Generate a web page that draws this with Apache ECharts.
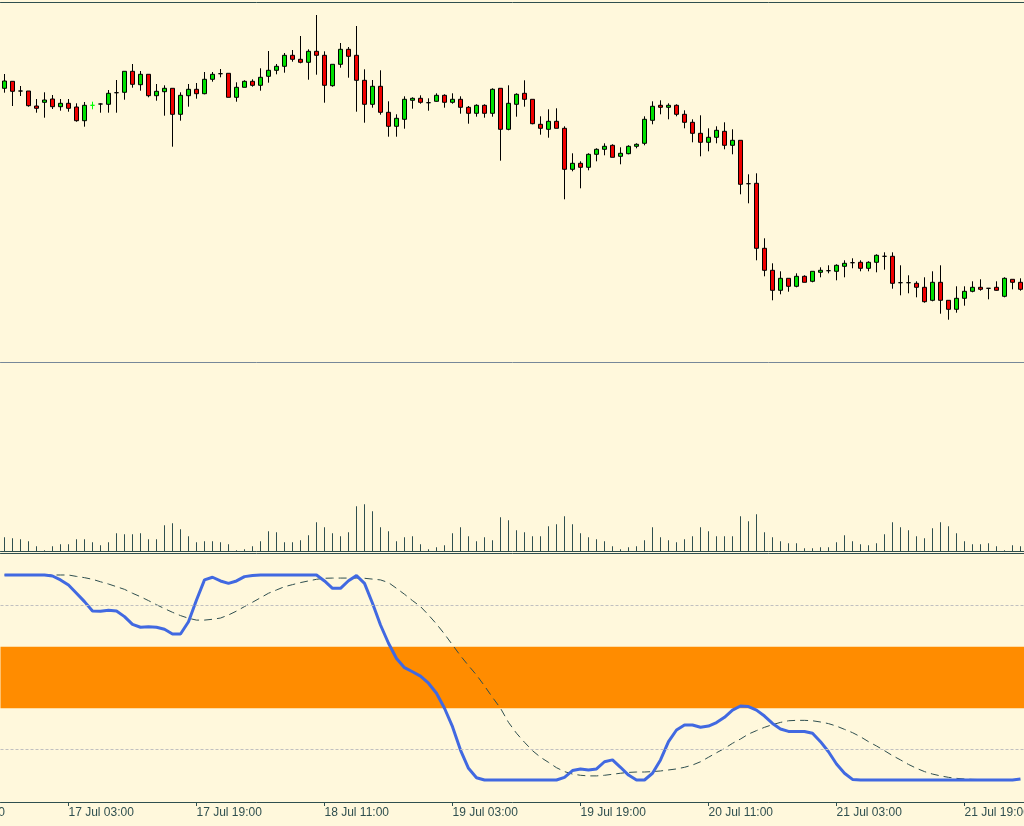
<!DOCTYPE html>
<html>
<head>
<meta charset="utf-8">
<title>Hourly chart with volume and stochastic</title>
<script src="https://cdn.jsdelivr.net/npm/echarts@6/dist/echarts.min.js"></script>
<style>
  html, body { margin: 0; padding: 0; background: #FFF8DC; }
  #chart { width: 1024px; height: 826px; }
</style>
</head>
<body>
<div id="chart"></div>
<script>
// hourly bars, first bar 16 Jul 19:00
const startDay = 16;
const startHour = 19;
const barCount = 128;
const categories = Array.from({ length: barCount }, (_, i) => {
    const h = startHour + i;
    return `${startDay + Math.floor(h / 24)} Jul ${String(h % 24).padStart(2, '0')}:00`;
});
// label that sits just off the left edge
const hiddenLeftLabel = '16 Jul 11:00';

const opens = [
    1.19117, 1.19187, 1.19090, 1.19090, 1.18940, 1.18977, 1.19010, 1.18933, 1.18967, 1.18930,
    1.18793, 1.18947, 1.18960, 1.18957, 1.19073, 1.19077, 1.19287, 1.19153, 1.19257, 1.19043,
    1.19083, 1.19117, 1.18857, 1.19043, 1.19107, 1.19063, 1.19207, 1.19263, 1.19267, 1.19027,
    1.19127, 1.19187, 1.19147, 1.19237, 1.19297, 1.19337, 1.19447, 1.19407, 1.19377, 1.19487,
    1.19447, 1.19143, 1.19357, 1.19507, 1.19447, 1.19197, 1.18957, 1.19137, 1.18877, 1.18737,
    1.18807, 1.18997, 1.19017, 1.18973, 1.18987, 1.19047, 1.18977, 1.19007, 1.18927, 1.18867,
    1.18947, 1.18867, 1.19117, 1.18707, 1.18957, 1.19067, 1.19007, 1.18757, 1.18707, 1.18787,
    1.18717, 1.18307, 1.18367, 1.18327, 1.18457, 1.18507, 1.18547, 1.18437, 1.18463, 1.18537,
    1.18567, 1.18797, 1.18947, 1.18927, 1.18947, 1.18857, 1.18777, 1.18667, 1.18577, 1.18627,
    1.18687, 1.18547, 1.18597, 1.18163, 1.18167, 1.17517, 1.17297, 1.17097, 1.17217, 1.17137,
    1.17237, 1.17187, 1.17277, 1.17293, 1.17287, 1.17337, 1.17373, 1.17377, 1.17317, 1.17377,
    1.17437, 1.17437, 1.17173, 1.17173, 1.17167, 1.17127, 1.16997, 1.17177, 1.16997, 1.16907,
    1.17017, 1.17087, 1.17127, 1.17117, 1.17127, 1.17037, 1.17207, 1.17177
];
const closes = [
    1.19190, 1.19087, 1.19090, 1.18943, 1.18917, 1.19000, 1.18933, 1.18967, 1.18917, 1.18793,
    1.18947, 1.18947, 1.18960, 1.19067, 1.19073, 1.19287, 1.19157, 1.19257, 1.19043, 1.19087,
    1.19117, 1.18857, 1.19047, 1.19107, 1.19063, 1.19207, 1.19257, 1.19263, 1.19027, 1.19127,
    1.19187, 1.19147, 1.19227, 1.19297, 1.19337, 1.19447, 1.19407, 1.19377, 1.19487, 1.19447,
    1.19147, 1.19357, 1.19507, 1.19437, 1.19197, 1.18957, 1.19137, 1.18877, 1.18737, 1.18817,
    1.19007, 1.19017, 1.18977, 1.18973, 1.19047, 1.18977, 1.19007, 1.18927, 1.18867, 1.18947,
    1.18867, 1.19107, 1.18707, 1.18967, 1.19057, 1.19007, 1.18763, 1.18717, 1.18787, 1.18717,
    1.18307, 1.18367, 1.18327, 1.18457, 1.18507, 1.18537, 1.18427, 1.18467, 1.18537, 1.18557,
    1.18807, 1.18937, 1.18927, 1.18947, 1.18857, 1.18777, 1.18667, 1.18577, 1.18627, 1.18697,
    1.18547, 1.18597, 1.18157, 1.18163, 1.17517, 1.17297, 1.17097, 1.17217, 1.17137, 1.17237,
    1.17177, 1.17287, 1.17297, 1.17293, 1.17347, 1.17367, 1.17373, 1.17317, 1.17377, 1.17447,
    1.17437, 1.17167, 1.17173, 1.17173, 1.17127, 1.16983, 1.17177, 1.16997, 1.16907, 1.17017,
    1.17087, 1.17127, 1.17107, 1.17117, 1.17097, 1.17217, 1.17177, 1.17107
];
const lows = [
    1.19073, 1.18940, 1.19040, 1.18933, 1.18873, 1.18823, 1.18910, 1.18893, 1.18883, 1.18783,
    1.18733, 1.18907, 1.18873, 1.18873, 1.18873, 1.19003, 1.19123, 1.19093, 1.19027, 1.18993,
    1.18843, 1.18533, 1.18793, 1.18933, 1.19013, 1.19057, 1.19183, 1.19227, 1.19027, 1.18983,
    1.19127, 1.19133, 1.19093, 1.19173, 1.19257, 1.19273, 1.19383, 1.19367, 1.19203, 1.19253,
    1.18973, 1.19133, 1.19323, 1.19223, 1.18883, 1.18773, 1.18923, 1.18853, 1.18633, 1.18633,
    1.18713, 1.18913, 1.18963, 1.18893, 1.18983, 1.18923, 1.18963, 1.18863, 1.18763, 1.18833,
    1.18823, 1.18833, 1.18393, 1.18697, 1.18833, 1.18933, 1.18757, 1.18653, 1.18623, 1.18717,
    1.18007, 1.18287, 1.18117, 1.18297, 1.18387, 1.18447, 1.18427, 1.18357, 1.18457, 1.18517,
    1.18547, 1.18757, 1.18857, 1.18807, 1.18837, 1.18717, 1.18577, 1.18437, 1.18487, 1.18567,
    1.18507, 1.18457, 1.18057, 1.17967, 1.17397, 1.17237, 1.16997, 1.17057, 1.17083, 1.17127,
    1.17177, 1.17177, 1.17227, 1.17267, 1.17197, 1.17227, 1.17317, 1.17287, 1.17287, 1.17277,
    1.17303, 1.17113, 1.17047, 1.17067, 1.17027, 1.16973, 1.16987, 1.16863, 1.16803, 1.16873,
    1.16943, 1.17077, 1.17093, 1.17007, 1.17093, 1.17027, 1.17107, 1.17093
];
const highs = [
    1.19260, 1.19187, 1.19140, 1.19090, 1.19010, 1.19077, 1.19050, 1.19010, 1.19010, 1.18967,
    1.18980, 1.18983, 1.18967, 1.19100, 1.19200, 1.19287, 1.19360, 1.19290, 1.19257, 1.19160,
    1.19147, 1.19117, 1.19077, 1.19160, 1.19170, 1.19280, 1.19280, 1.19310, 1.19267, 1.19177,
    1.19197, 1.19207, 1.19317, 1.19490, 1.19360, 1.19470, 1.19500, 1.19640, 1.19507, 1.19850,
    1.19487, 1.19357, 1.19570, 1.19530, 1.19740, 1.19307, 1.19200, 1.19297, 1.18987, 1.18857,
    1.19037, 1.19027, 1.19047, 1.19017, 1.19067, 1.19057, 1.19067, 1.19037, 1.18940, 1.18957,
    1.18957, 1.19117, 1.19117, 1.19147, 1.19067, 1.19197, 1.19007, 1.18837, 1.18907, 1.18917,
    1.18737, 1.18467, 1.18387, 1.18467, 1.18517, 1.18567, 1.18557, 1.18527, 1.18547, 1.18567,
    1.18837, 1.18987, 1.18997, 1.18967, 1.18957, 1.18897, 1.18807, 1.18847, 1.18717, 1.18737,
    1.18777, 1.18707, 1.18597, 1.18257, 1.18267, 1.17617, 1.17367, 1.17287, 1.17217, 1.17267,
    1.17247, 1.17287, 1.17327, 1.17347, 1.17357, 1.17397, 1.17417, 1.17397, 1.17387, 1.17457,
    1.17477, 1.17477, 1.17347, 1.17247, 1.17187, 1.17227, 1.17287, 1.17347, 1.16997, 1.17137,
    1.17137, 1.17187, 1.17207, 1.17117, 1.17187, 1.17227, 1.17207, 1.17217
];
// tick volume per bar
const volumes = [
    137, 127, 117, 97, 47, 7, 47, 67, 67, 117,
    117, 87, 57, 87, 177, 167, 167, 177, 117, 117,
    257, 277, 217, 147, 87, 97, 97, 87, 67, 7,
    17, 47, 97, 197, 187, 87, 87, 107, 157, 287,
    237, 177, 147, 187, 447, 467, 397, 237, 197, 97,
    137, 147, 67, 17, 37, 57, 177, 237, 147, 97,
    137, 107, 337, 307, 207, 187, 147, 147, 247, 267,
    347, 267, 177, 137, 117, 97, 47, 17, 37, 47,
    107, 237, 137, 107, 87, 117, 147, 237, 197, 147,
    147, 147, 347, 297, 367, 187, 137, 97, 77, 77,
    27, 27, 37, 37, 87, 157, 97, 67, 57, 77,
    167, 287, 237, 207, 147, 127, 227, 287, 247, 177,
    97, 67, 67, 77, 47, 7, 57, 47
];
// stochastic main and signal lines
const stochMain = [
    100, 100, 100, 100, 100, 100, 99.5, 97.6, 95.1, 91.1,
    87, 82.4, 82.3, 82.8, 82.4, 79.7, 75.9, 74.5, 74.8, 74.5,
    73.5, 71.2, 71.2, 77.2, 87.8, 97.6, 98.9, 97.1, 95.9, 97.1,
    99.2, 99.8, 100, 100, 100, 100, 100, 100, 100, 100,
    97.1, 93.5, 93.5, 97.2, 99.7, 95.9, 86.2, 75.6, 66.7, 59.3,
    54.8, 52.8, 50.7, 47.2, 42.3, 35, 26, 14.6, 5.7, 1.1,
    0, 0, 0, 0, 0, 0, 0, 0, 0, 0,
    1.3, 4.6, 5.4, 4.9, 5.4, 8.9, 9.8, 6.2, 2.4, 0,
    0, 3.3, 9.8, 18.7, 24.4, 26.8, 26.8, 25.7, 26.3, 28,
    30.6, 34.1, 36.1, 35.8, 34.1, 31.2, 27.6, 24.9, 23.7, 23.7,
    23.7, 22.8, 18.7, 13.8, 7.8, 3.3, 0.3, 0, 0, 0,
    0, 0, 0, 0, 0, 0, 0, 0, 0, 0,
    0, 0, 0, 0, 0, 0, 0, 0.5
];
const stochSignal = [
    100, 100, 100, 100, 100, 100, 100, 100, 100, 99.3,
    98.7, 97.9, 96.7, 95.6, 94.3, 93, 91.1, 89.4, 87.5, 85.5,
    83.6, 81.8, 80.2, 78.9, 78, 78, 78.4, 79, 80.5, 82.4,
    84.6, 86.7, 88.9, 91.1, 92.7, 94.3, 95.3, 96.3, 97.1, 97.9,
    98.4, 98.5, 98.5, 98.5, 98.5, 98.4, 98, 97.6, 96.3, 93.5,
    90.6, 87.5, 84.6, 80.5, 76.1, 71.2, 65.9, 60.6, 55.8, 51.2,
    45.9, 40.3, 35, 28.1, 22.8, 18.4, 14.3, 11.1, 8.6, 6,
    4.1, 2.9, 2.3, 2, 2, 2.3, 2.8, 3.3, 3.7, 3.9,
    3.9, 4.1, 4.4, 4.9, 5.4, 6.2, 7.3, 8.9, 11.1, 13.3,
    15.4, 17.9, 20, 22.4, 24.1, 25.7, 27, 28.1, 28.9, 29.1,
    29.1, 28.9, 28.3, 27.5, 26.3, 24.7, 23.1, 21.1, 18.7, 16.6,
    14.3, 11.9, 9.8, 7.6, 5.7, 4.1, 2.9, 2, 1.3, 0.8,
    0.5, 0.3, 0.2, 0.1, 0, 0, 0, 0
];
const stochLevels = [85, 15];
const stochBand = [35, 65];
const limeDojiIndex = 11;

const fg = '#2F4F4F';
const labelFont = { fontFamily: 'Liberation Sans', fontSize: 12, color: fg };
const labelEvery = (index) => index % 16 === 8;

const candles = categories.map((c, i) => {
    const item = { value: [opens[i], closes[i], lows[i], highs[i]] };
    if (i === limeDojiIndex) {
        item.itemStyle = { borderColor: '#00FF00', borderColor0: '#00FF00', borderColorDoji: '#00FF00' };
    }
    return item;
});

const chart = echarts.init(document.getElementById('chart'));

function hiddenAxis(gridIndex, position, lineColor) {
    return {
        type: 'category',
        gridIndex: gridIndex,
        position: position,
        data: categories,
        boundaryGap: true,
        axisLine: { show: true, onZero: false, lineStyle: { color: lineColor, width: 1 } },
        axisTick: { show: false },
        axisLabel: { show: false },
        splitLine: { show: false }
    };
}

// 1px wide volume sticks, snapped to whole pixels
function renderVolume(params, api) {
    const top = api.coord([api.value(0), api.value(1)]);
    const base = api.coord([api.value(0), 0]);
    return {
        type: 'rect',
        shape: { x: Math.floor(top[0]), y: top[1], width: 1, height: base[1] - top[1] },
        style: { fill: fg }
    };
}

const gridBase = { left: 0.5, width: 1024, outerBoundsMode: 'none', containLabel: false };

const option = {
    animation: false,
    backgroundColor: '#FFF8DC',
    grid: [
        Object.assign({ top: 2, height: 360 }, gridBase),
        Object.assign({ top: 363, height: 188 }, gridBase),
        Object.assign({ top: 553, height: 249 }, gridBase)
    ],
    xAxis: [
        hiddenAxis(0, 'bottom', '#778899'),
        hiddenAxis(0, 'top', fg),
        hiddenAxis(1, 'bottom', fg),
        hiddenAxis(2, 'top', fg),
        {
            type: 'category',
            gridIndex: 2,
            position: 'bottom',
            data: categories,
            boundaryGap: true,
            axisLine: { show: true, onZero: false, lineStyle: { color: fg, width: 1 } },
            axisTick: { show: true, length: 4, alignWithLabel: true, interval: labelEvery, lineStyle: { color: fg } },
            axisLabel: Object.assign({ show: true, interval: labelEvery, align: 'left', margin: 5, hideOverlap: false }, labelFont),
            splitLine: { show: false }
        },
        { type: 'value', gridIndex: 2, min: 0, max: 1, show: false }
    ],
    yAxis: [
        { type: 'value', gridIndex: 0, min: 1.1638, max: 1.1998, show: false, splitLine: { show: false } },
        { type: 'value', gridIndex: 1, min: 0, max: 1880, show: false, splitLine: { show: false } },
        { type: 'value', gridIndex: 2, min: -10.73, max: 110.73, show: false, splitLine: { show: false } }
    ],
    graphic: [
        {
            type: 'text',
            left: -59.5,
            top: 807,
            style: { text: hiddenLeftLabel, font: '12px "Liberation Sans"', fill: fg }
        }
    ],
    series: [
        {
            name: 'Price',
            type: 'candlestick',
            xAxisIndex: 0,
            yAxisIndex: 0,
            barWidth: 4,
            data: candles,
            itemStyle: {
                color: '#00E000',
                color0: '#F00000',
                borderColor: '#000000',
                borderColor0: '#000000',
                borderColorDoji: '#000000',
                borderWidth: 1
            }
        },
        {
            name: 'Volume',
            type: 'custom',
            xAxisIndex: 2,
            yAxisIndex: 1,
            renderItem: renderVolume,
            encode: { x: 0, y: 1 },
            data: volumes.map((v, i) => [i, v])
        },
        {
            name: 'Levels',
            type: 'line',
            xAxisIndex: 5,
            yAxisIndex: 2,
            data: [],
            z: 1,
            silent: true,
            markArea: {
                silent: true,
                itemStyle: { color: '#FF8C00', opacity: 1 },
                data: [[{ xAxis: 0, yAxis: stochBand[0] }, { xAxis: 1, yAxis: stochBand[1] }]]
            },
            markLine: {
                silent: true,
                symbol: 'none',
                label: { show: false },
                lineStyle: { color: '#C0C0C0', type: [3, 2], width: 1 },
                data: stochLevels.map(v => [{ coord: [0, v] }, { coord: [1, v] }])
            }
        },
        {
            name: 'Signal',
            type: 'line',
            xAxisIndex: 4,
            yAxisIndex: 2,
            data: stochSignal,
            z: 3,
            clip: false,
            showSymbol: false,
            lineStyle: { color: fg, width: 1, type: [8, 5] }
        },
        {
            name: 'Main',
            type: 'line',
            xAxisIndex: 4,
            yAxisIndex: 2,
            data: stochMain,
            z: 4,
            clip: false,
            showSymbol: false,
            lineStyle: { color: '#4169E1', width: 3 }
        }
    ]
};

chart.setOption(option);
</script>
</body>
</html>
